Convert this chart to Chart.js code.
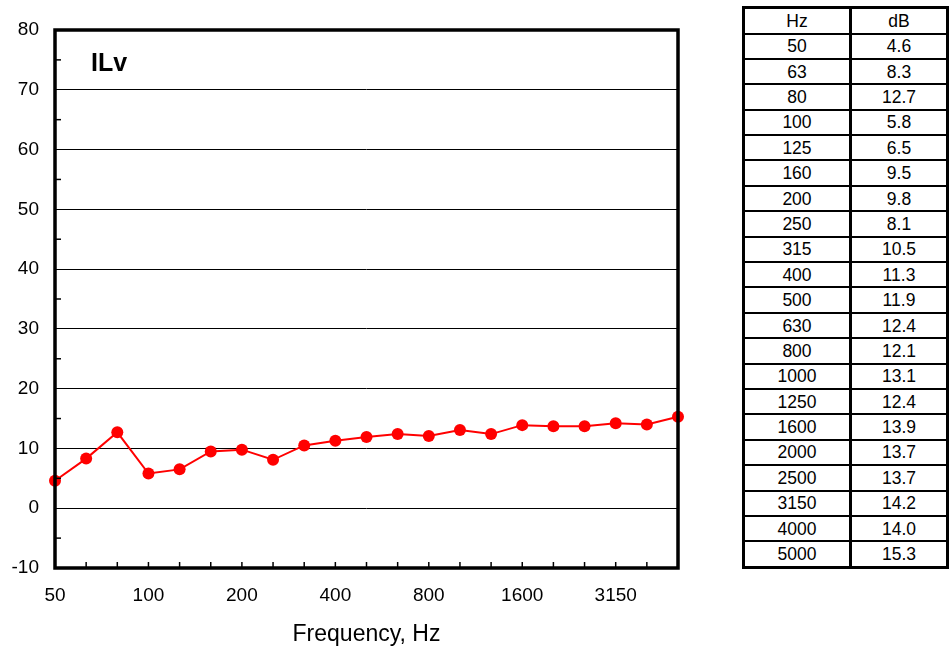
<!DOCTYPE html>
<html>
<head>
<meta charset="utf-8">
<script src="https://cdn.jsdelivr.net/npm/chart.js@4.4.0/dist/chart.umd.min.js"></script>
<style>
  body { margin: 0; background: #fff; font-family: "Liberation Sans", Arial, sans-serif; }
  #wrap { position: absolute; left: 0; top: 0; width: 720px; height: 648px; }
  #tbl {
    position: absolute; left: 742px; top: 6px; width: 207px; height: 563px;
    border-collapse: collapse; border: 3px solid #000;
    font-size: 17.5px; color: #000; table-layout: fixed;
  }
  #tbl td { border-top: 2px solid #000; border-bottom: 2px solid #000; text-align: center; padding: 0; line-height: 18px; }
  #tbl td:first-child { border-right: 3px solid #000; width: 104px; }
</style>
</head>
<body>
<div id="wrap"><canvas id="ilvChart" width="720" height="648"></canvas></div>
<table id="tbl"></table>
<script>
const freqs = ['50', '63', '80', '100', '125', '160', '200', '250', '315', '400', '500',
               '630', '800', '1000', '1250', '1600', '2000', '2500', '3150', '4000', '5000'];
const ilvValues = [4.6, 8.3, 12.7, 5.8, 6.5, 9.5, 9.8, 8.1, 10.5, 11.3, 11.9,
                   12.4, 12.1, 13.1, 12.4, 13.9, 13.7, 13.7, 14.2, 14.0, 15.3];
const xTickLabels = ['50', '100', '200', '400', '800', '1600', '3150'];

// table on the right
const tbl = document.getElementById('tbl');
let html = '<tr><td>Hz</td><td>dB</td></tr>';
freqs.forEach((f, i) => {
    html += '<tr><td>' + f + '</td><td>' + ilvValues[i].toFixed(1) + '</td></tr>';
});
tbl.innerHTML = html;

// frame, inward ticks and "ILv" label
const framePlugin = {
    id: 'frame',
    afterDraw(chart) {
        const { ctx, chartArea: a, scales } = chart;
        ctx.save();
        ctx.strokeStyle = '#000';
        // x ticks pointing up
        ctx.lineWidth = 1.5;
        freqs.forEach((f, i) => {
            const x = scales.x.getPixelForValue(i);
            ctx.beginPath();
            ctx.moveTo(x, a.bottom);
            ctx.lineTo(x, a.bottom - 6);
            ctx.stroke();
        });
        // minor y ticks
        for (let v = -5; v < 80; v += 10) {
            const y = scales.y.getPixelForValue(v);
            ctx.beginPath();
            ctx.moveTo(a.left, y);
            ctx.lineTo(a.left + 6, y);
            ctx.stroke();
        }
        ctx.lineWidth = 3.5;
        ctx.strokeRect(a.left, a.top, a.right - a.left, a.bottom - a.top);
        ctx.fillStyle = '#000';
        ctx.font = 'bold 25px "Liberation Sans", Arial, sans-serif';
        ctx.textBaseline = 'middle';
        ctx.fillText('ILv', a.left + 36, a.top + 34);
        ctx.restore();
    }
};

const ctx = document.getElementById('ilvChart').getContext('2d');
new Chart(ctx, {
    type: 'line',
    data: {
        labels: freqs,
        datasets: [{
            label: 'ILv',
            data: ilvValues,
            borderColor: '#ff0000',
            backgroundColor: '#ff0000',
            borderWidth: 2,
            tension: 0,
            pointRadius: 6,
            pointBackgroundColor: '#ff0000',
            pointBorderWidth: 0
        }]
    },
    options: {
        responsive: false,
        animation: false,
        layout: { padding: { top: 30, right: 42, left: 0, bottom: 0 } },
        plugins: {
            legend: { display: false },
            tooltip: { enabled: false }
        },
        scales: {
            x: {
                offset: false,
                grid: { display: false, drawTicks: false },
                border: { display: false },
                ticks: {
                    autoSkip: false,
                    maxRotation: 0,
                    padding: 16,
                    color: '#000',
                    font: { family: '"Liberation Sans", Arial, sans-serif', size: 19 },
                    callback: function (value) {
                        const l = this.getLabelForValue(value);
                        return xTickLabels.includes(l) ? l : '';
                    }
                },
                title: {
                    display: true,
                    text: 'Frequency, Hz',
                    color: '#000',
                    font: { family: '"Liberation Sans", Arial, sans-serif', size: 23 },
                    padding: { top: 16, bottom: 0 }
                },
                afterFit(scale) { scale.height = 80; }
            },
            y: {
                min: -10,
                max: 80,
                ticks: {
                    stepSize: 10,
                    padding: 16,
                    color: '#000',
                    font: { family: '"Liberation Sans", Arial, sans-serif', size: 19 }
                },
                grid: { color: '#000', lineWidth: 1, drawTicks: false },
                border: { display: false },
                afterFit(scale) { scale.width = 55; }
            }
        }
    },
    plugins: [framePlugin]
});
</script>
</body>
</html>
